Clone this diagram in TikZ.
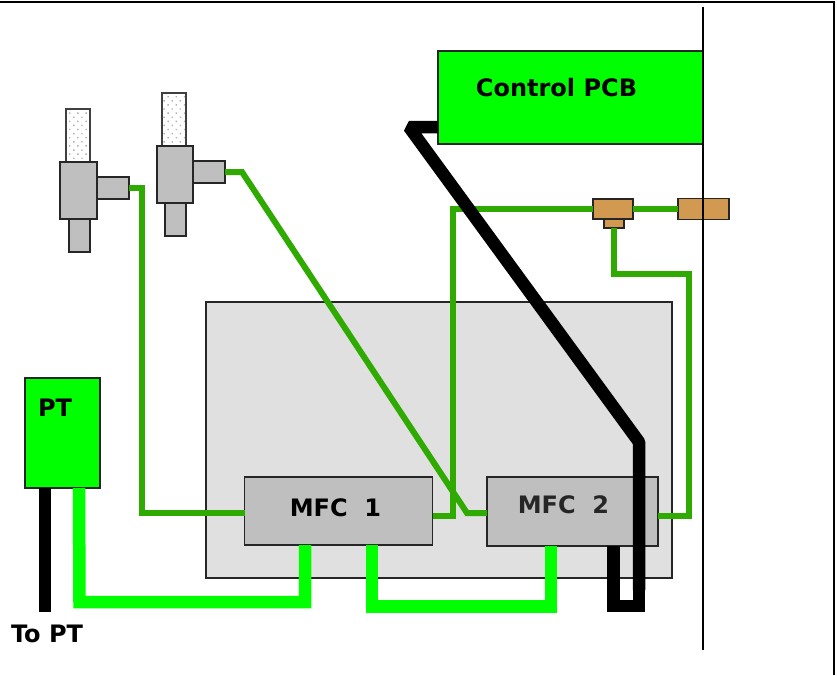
\documentclass[tikz,border=0pt]{standalone}
\usepackage{fontspec}
\setmainfont{DejaVu Sans}
\usetikzlibrary{patterns.meta,positioning}
\definecolor{gasgreen}{HTML}{2EAA00}
\definecolor{brass}{HTML}{D29A50}
\tikzset{
  part/.style={draw=black!85,line width=1.3pt,inner sep=0pt,outer sep=0pt},
  greybox/.style={part,fill=black!25},
  greenbox/.style={part,fill=green},
  brassbox/.style={part,fill=brass},
  capbox/.style={part,draw=black!75,pattern={Dots[distance=5.8pt,radius=1pt,angle=45]},pattern color=black!30},
  lab/.style={font=\fontsize{24}{28}\selectfont\bfseries,inner sep=0pt},
  gasline/.style={draw=gasgreen,line width=6pt,line join=miter},
  signal/.style={draw=green,line width=12.5pt,line join=miter},
  power/.style={draw=black,line width=12.5pt,line join=miter}
}
\begin{document}
\begin{tikzpicture}[x=1pt,y=-1pt]
    \useasboundingbox (0,0) rectangle (837,675);
    \draw[line width=2pt] (0,2) -- (834,2) -- (834,675);
    \node[part,fill=black!12,minimum width=466pt,minimum height=276pt] (panel) at (439,440) {};
    \node[greenbox,minimum width=265pt,minimum height=93pt] (pcb) at (570.5,97.5) {};
    \node[lab] (pcblabel) at (556.5,88) {Control PCB};
    \node[greenbox,minimum width=75pt,minimum height=110pt] (pt) at (62.5,433) {};
    \node[lab] (ptlabel) at (55,408) {PT};
    \node[greybox,minimum width=188pt,minimum height=68pt] (mfcone) at (338.5,511) {};
    \node[lab] (mfconelabel) at (335.5,508) {MFC\ \ 1};
    \node[greybox,minimum width=171pt,minimum height=69pt] (mfctwo) at (572.5,511.5) {};
    \node[lab,text=black!85] (mfctwolabel) at (563.5,505) {MFC\ \ 2};
    \node[lab] (topt) at (47,634) {To PT};
    \node[capbox,minimum width=24pt,minimum height=53pt] (capone) at (78,135.5) {};
    \node[greybox,minimum width=37pt,minimum height=57pt] (bodyone) at (78.5,190.5) {};
    \node[greybox,minimum width=32pt,minimum height=22pt] (sideone) at (113,188) {};
    \node[greybox,minimum width=21pt,minimum height=33pt] (footone) at (79.5,235.5) {};
    \node[capbox,minimum width=24pt,minimum height=53pt] (captwo) at (174,119.5) {};
    \node[greybox,minimum width=36pt,minimum height=57pt] (bodytwo) at (175,174.5) {};
    \node[greybox,minimum width=32pt,minimum height=22pt] (sidetwo) at (209,172) {};
    \node[greybox,minimum width=21pt,minimum height=33pt] (foottwo) at (175.5,219.5) {};
    \node[brassbox,minimum width=40pt,minimum height=20pt] (tee) at (613,209) {};
    \node[brassbox,minimum width=20pt,minimum height=9pt] (teefoot) at (614,223.5) {};
    \node[brassbox,minimum width=51pt,minimum height=21pt] (feed) at (703.5,209) {};
    \coordinate (loop) at (639,590);
    \path[gasline]
    (sideone.east) -- (142,188) -- (142,513) -- ([yshift=-2pt]mfcone.west);
    \path[gasline]
    (sidetwo.east) -- (242,172) -- (467,513) -- ([yshift=-1.5pt]mfctwo.west);
    \path[gasline]
    ([yshift=-5pt]mfcone.east) -- (453,516) -- (453,209) -- (tee.west);
    \path[gasline] (tee.east) -- (feed.west);
    \path[gasline]
    (teefoot.south) -- (614,274) -- (689,274) -- (689,516) -- ([yshift=-4.5pt]mfctwo.east);
    \path[signal]
    ([xshift=16.5pt]pt.south) -- (79.5,602) -- (305,602) -- (mfcone.south -| 305,0);
    \path[signal]
    (mfcone.south -| 372,0) -- (372,606.5) -- (551,606.5) -- (mfctwo.south -| 551,0);
    \path[power] ([xshift=-17.5pt]pt.south) -- (45,612);
    \path[power,line join=bevel]
    ([yshift=-29.5pt]pcb.west) -- (409,127) -- (639,442) -- (loop);
    \path[power]
    (loop) -- (639,606) -- (613.5,606) -- (mfctwo.south -| 613.5,0);
    \draw[line width=1.2pt] (703,7) -- (703,650);
  \end{tikzpicture}
\end{document}
